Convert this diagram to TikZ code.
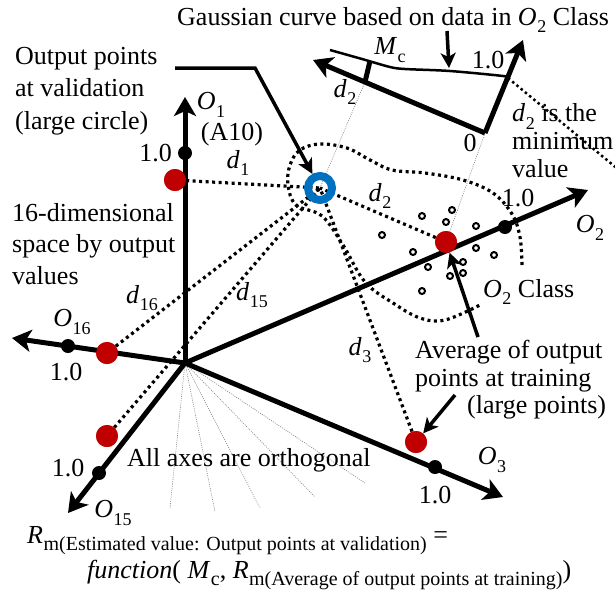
\documentclass[tikz,border=0pt]{standalone}
\usepackage{fontspec}
\setmainfont{Liberation Serif}
\usetikzlibrary{arrows.meta}
\definecolor{dotred}{HTML}{C00000}
\definecolor{ringblue}{HTML}{0070C0}
\newcommand{\sbs}[3][18]{\textit{#2}\kern0.5pt\raisebox{-0.3em}{\fontsize{#1}{#1}\selectfont #3}}
\tikzset{
  axis/.style={line width=5pt,-{Stealth[length=19pt,width=22pt,inset=5pt]}},
  ptr/.style={line width=3.5pt,-{Stealth[length=15pt,width=15pt,inset=4pt]}},
  dist/.style={line width=3.2pt,dash pattern=on 3pt off 3.5pt},
  fan/.style={gray,line width=0.6pt,dash pattern=on 1pt off 1.2pt},
  bdot/.style={circle,fill=black,minimum size=14pt,inner sep=0pt},
  rdot/.style={circle,fill=dotred,minimum size=22pt,inner sep=0pt},
  tp/.style={circle,draw,line width=2pt,minimum size=6pt,inner sep=0pt},
  lbl/.style={inner sep=0pt}
}

\begin{document}
\begin{tikzpicture}[x=1pt,y=-1pt,font=\fontsize{26}{31}\selectfont]
  \useasboundingbox (0,0) rectangle (615,590);
  \coordinate (o) at (185,363);
  \coordinate (t1) at (185,97);
  \coordinate (t2) at (588,190);
  \coordinate (t3) at (503,497);
  \coordinate (t15) at (68,513);
  \coordinate (t16) at (12,338);
  \coordinate (v) at (320,188);
  \coordinate (g0) at (485,133);
  \coordinate (gx) at (313,60);
  \coordinate (gy) at (523,40);
  \coordinate (mc) at (365,82);
  \coordinate (mct) at (370,61);
  \coordinate (gp) at (449,68);
  \coordinate (gq) at (447,31);
  \coordinate (gm) at (508,78);
  \coordinate (gn) at (625,175);
  \coordinate (q1) at (175,68);
  \coordinate (q2) at (255,68);
  \coordinate (a2) at (478,337);
  \coordinate (a3) at (455,395);

  \foreach \x/\y in {170/508,215/512,260/508,315/497,365/483}
    \draw[fan] (o) -- (\x,\y);
  \draw[fan] (v) -- (mc);

  \draw[dist] plot[smooth,tension=0.6] coordinates {(522,265) (520,237) (512,214) (493,193) (463,180)
    (425,173) (392,170) (370,160) (347,148) (320,144) (300,150) (290,165) (288,185) (296,205)
    (322,216) (343,245) (365,282) (393,303) (420,318) (445,320) (480,305)};

  \node[rdot] (r1) at (175,180) {};
  \node[rdot] (r2) at (446,242) {};
  \node[rdot] (r3) at (416,442) {};
  \node[rdot] (r15) at (107,436) {};
  \node[rdot] (r16) at (107,353) {};
  \draw[fan] (r2) -- (g0);

  \draw[dist] (r1) -- (v);
  \draw[dist] (r2) -- (v);
  \draw[dist] (r3) -- (v);
  \draw[dist] (r15) -- (v);
  \draw[dist] (r16) -- (v);

  \draw[axis] (o) -- (t1);
  \draw[axis] (o) -- (t2);
  \draw[axis] (o) -- (t3);
  \draw[axis] (o) -- (t15);
  \draw[axis] (o) -- (t16);
  \node[bdot] (u1) at (185,153) {};
  \node[bdot] (u2) at (505,227) {};
  \node[bdot] (u3) at (435,467) {};
  \node[bdot] (u15) at (99,473) {};
  \node[bdot] (u16) at (68,346) {};
  \node[rdot] at (r1) {};
  \node[rdot] at (r2) {};
  \node[rdot] at (r3) {};
  \node[rdot] at (r15) {};
  \node[rdot] at (r16) {};

  \foreach \x/\y in {422/216,452/210,446/222,382/235,476/226,413/252,476/248,494/255,
                     428/267,463/262,463/273,450/276,422/291}
    \node[tp] at (\x,\y) {};

  \node[circle,draw=ringblue,line width=8pt,minimum size=24pt,inner sep=0pt] (vr) at (v) {};

  \draw[axis] (g0) -- (gx);
  \draw[axis] (g0) -- (gy);
  \draw[line width=2.5pt] plot[smooth] coordinates {(330,50) (362,59) (390,67) (405,69) (450,71) (503,76) (508,78)};
  \draw[line width=5pt] (mc) -- (mct);
  \draw[ptr] (gq) -- (gp);
  \draw[line width=2.5pt,dash pattern=on 2.5pt off 3pt] (gm) -- (gn);

  \draw[ptr] (q1) -- (q2) -- (vr);
  \draw[ptr] (a2) -- (r2);
  \draw[ptr] (a3) -- (r3);

  \node[lbl,anchor=west] (tg) at (177,20) {Gaussian curve based on data in \sbs{O}{2} Class};
  \node[lbl,anchor=west,align=left,font=\fontsize{26}{32.5}\selectfont] (tv) at (15,91) {Output points\\at validation\\(large circle)};
  \node[lbl,anchor=west,align=left,font=\fontsize{26}{31.5}\selectfont] (ts) at (12,244) {16-dimensional\\space by output\\values};
  \node[lbl,anchor=west,align=left,font=\fontsize{26}{28}\selectfont] (tm) at (512,141) {\sbs{d}{2} is the\\minimum\\value};
  \node[lbl,anchor=west,align=left,font=\fontsize{26}{27.5}\selectfont] (ta) at (415,380) {Average of output\\points at training\\\hspace*{52pt}(large points)};
  \node[lbl,anchor=west] (tc) at (483,292) {\sbs{O}{2} Class};
  \node[lbl,anchor=west] (tx) at (127,460) {All axes are orthogonal};

  \node[lbl] (lo1) at (211,105) {\sbs{O}{1}};
  \node[lbl] (la) at (232,134) {(A10)};
  \node[lbl,anchor=east] (l1a) at (172,153) {1.0};
  \node[lbl] (l2a) at (518,198) {1.0};
  \node[lbl] (lo2) at (590,228) {\sbs{O}{2}};
  \node[lbl] (lo3) at (492,460) {\sbs{O}{3}};
  \node[lbl] (l3a) at (435,495) {1.0};
  \node[lbl] (lo16) at (72,322) {\sbs{O}{16}};
  \node[lbl] (l16a) at (66,372) {1.0};
  \node[lbl] (lo15) at (113,513) {\sbs{O}{15}};
  \node[lbl] (l15a) at (68,468) {1.0};

  \node[lbl] (ld1) at (238,163) {\sbs{d}{1}};
  \node[lbl] (ld2) at (380,196) {\sbs{d}{2}};
  \node[lbl] (ld3) at (360,350) {\sbs{d}{3}};
  \node[lbl] (ld16) at (142,298) {\sbs{d}{16}};
  \node[lbl] (ld15) at (252,295) {\sbs{d}{15}};
  \node[lbl] (lgd) at (345,92) {\sbs{d}{2}};
  \node[lbl] (lmc) at (390,50) {\sbs{M}{c}};
  \node[lbl] (lg1) at (488,60) {1.0};
  \node[lbl] (lg0) at (470,143) {0};

  \node[lbl,anchor=base west] (f1) at (27,543) {\sbs[20]{R}{m(Estimated value: Output points at validation)} =};
  \node[lbl,anchor=base west] (f2) at (87,578) {\textit{function}( \sbs[20]{M}{c}, \sbs[20]{R}{m(Average of output points at training)})};
\end{tikzpicture}
\end{document}
